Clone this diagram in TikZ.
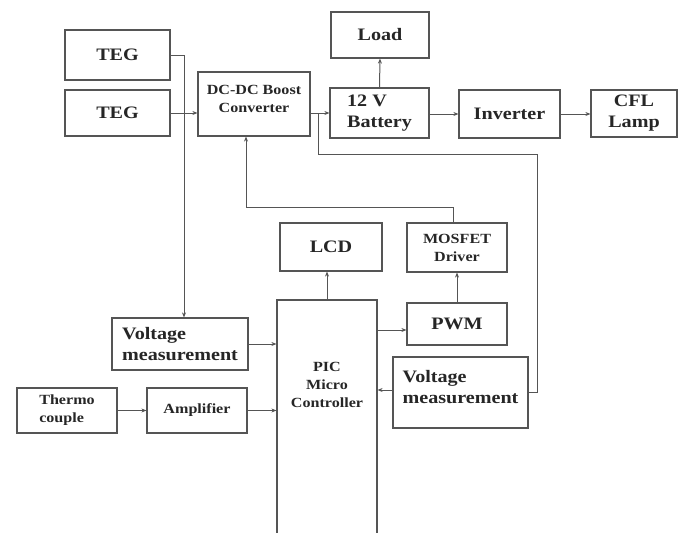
\documentclass[tikz,border=0pt]{standalone}
\usepackage{fontspec}
\setmainfont{Liberation Serif}[FakeStretch=1.15]
\usetikzlibrary{arrows.meta}
\definecolor{boxgray}{HTML}{555555}
\definecolor{inkgray}{HTML}{262626}

\begin{document}
\begin{tikzpicture}[x=1pt,y=-1pt,
    blk/.style={draw=boxgray, line width=1.2pt, fill=white, text=inkgray,
      font=\bfseries\fontsize{17.5}{21}\selectfont, inner sep=0pt},
    sml/.style={font=\bfseries\fontsize{14}{18}\selectfont},
    wire/.style={draw=boxgray, line width=1pt},
    arr/.style={wire, -{Stealth[length=5pt,width=4pt]}}]
      % \draw[help lines, gray!50, very thin] (0,0) grid[step=50] (678,533);
      \useasboundingbox (0,0) rectangle (678,533);

      % top row
      \node[blk, minimum width=105, minimum height=50] (teg1) at (117.5,55) {TEG};
      \node[blk, minimum width=105, minimum height=46] (teg2) at (117.5,113) {TEG};
      \node[blk, sml, minimum width=112, minimum height=64, align=center] (dc) at (254,104) {DC-DC Boost\\Converter\\[-8pt]};
      \node[blk, minimum width=98, minimum height=46] (load) at (380,35) {Load};
      \node[blk, minimum width=99, minimum height=50, align=left] (batt) at (379.5,113) {12 V\\Battery};
      \node[blk, minimum width=101, minimum height=48] (inv) at (509.5,114) {Inverter};
      \node[blk, minimum width=86, minimum height=47, align=center] (cfl) at (634,113.5) {CFL\\Lamp};

      % controller part
      \node[blk, minimum width=102, minimum height=48] (lcd) at (331,247) {LCD};
      \node[blk, sml, minimum width=100, minimum height=49, align=center] (mos) at (457,247.5) {MOSFET\\Driver};
      \node[blk, minimum width=100, minimum height=236,
        label={[sml, text=inkgray, align=center, yshift=33pt]center:PIC\\Micro\\Controller}] (pic) at (327,418) {};
      \node[blk, minimum width=100, minimum height=42] (pwm) at (457,324) {PWM};
      \node[blk, minimum width=136, minimum height=52, align=left] (vm1) at (180,344) {Voltage\\measurement};
      \node[blk, sml, minimum width=100, minimum height=45, align=left] (thermo) at (67,410.5) {Thermo\\couple};
      \node[blk, sml, minimum width=100, minimum height=45] (amp) at (197,410.5) {Amplifier};
      \node[blk, minimum width=135, minimum height=71, align=left] (vm2) at (460.5,392.5) {Voltage\\measurement\\[-9pt]};

      % connections
      \draw[arr] (teg1.east) -| ([xshift=4pt]vm1.north);
      \draw[arr] (teg2.east) -- (teg2.east -| dc.west);
      \draw[arr] (batt.west -| dc.east) -- (batt.west);
      \draw[wire] (318,113) |- (537,154) |- (vm2.east);
      \draw[arr] (batt.north) -- (load.south);
      \draw[arr] (batt.east |- inv.west) -- (inv.west);
      \draw[arr] (inv.east) -- (inv.east -| cfl.west);
      \draw[arr] ([xshift=-4pt]mos.north) -- ++(0,-15) -| ([xshift=-8pt]dc.south);
      \draw[arr] (pic.north) -- (pic.north |- lcd.south);
      \draw[arr] (pic.east |- 0,330) -- (pwm.west |- 0,330);
      \draw[arr] (pwm.north) -- (mos.south);
      \draw[arr] (vm1.east) -- (vm1.east -| pic.west);
      \draw[arr] (thermo.east) -- (amp.west);
      \draw[arr] (amp.east) -- (amp.east -| pic.west);
      \draw[arr] (vm2.west |- 0,390) -- (pic.east |- 0,390);
    \end{tikzpicture}
\end{document}
